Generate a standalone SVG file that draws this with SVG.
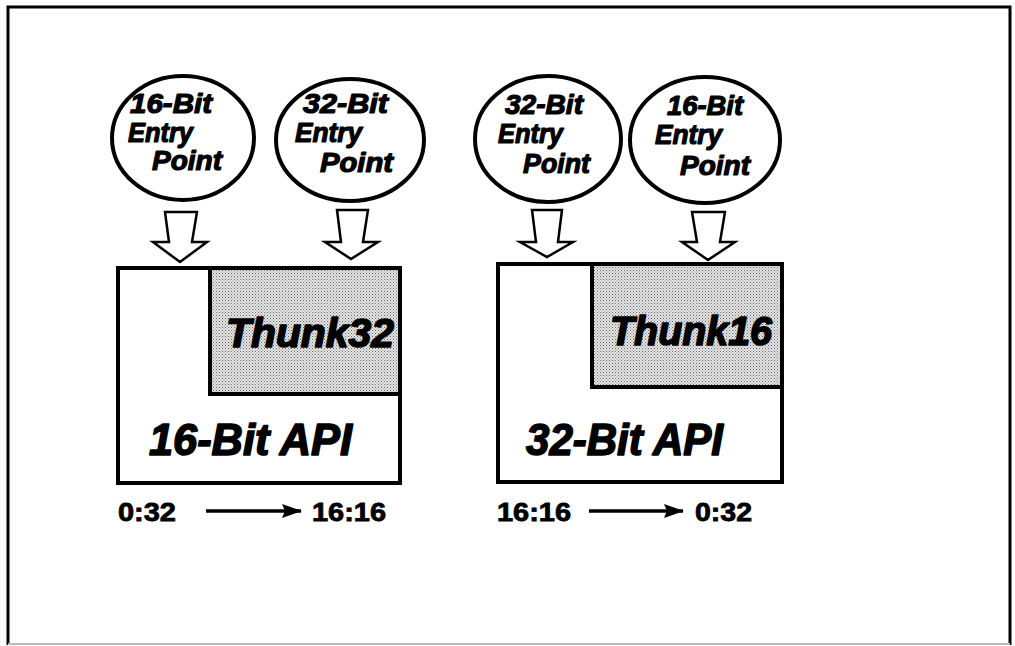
<svg xmlns="http://www.w3.org/2000/svg" width="1015" height="646" viewBox="0 0 1015 646">
  <defs>
    <pattern id="dither" width="3" height="3" patternUnits="userSpaceOnUse">
      <rect width="3" height="3" fill="#e4e4e4"/>
      <rect x="0" y="0" width="1" height="1" fill="#6a6a6a"/>
      <rect x="1.5" y="1.5" width="1" height="1" fill="#8a8a8a"/>
    </pattern>
    <marker id="head" markerWidth="20" markerHeight="14" refX="19" refY="7" orient="auto" markerUnits="userSpaceOnUse" viewBox="0 0 20 14">
      <path d="M0,0 L20,7 L0,14 L3,7 Z" fill="#000"/>
    </marker>
  </defs>
  <style>
    .frame { fill: none; stroke: #000; stroke-width: 3; }
    .bubble { fill: #fff; stroke: #000; stroke-width: 4; }
    .box { fill: #fff; stroke: #000; stroke-width: 4; }
    .thunk { fill: url(#dither); stroke: #000; stroke-width: 4; }
    .hollow { fill: #fff; stroke: #000; stroke-width: 2.5; stroke-linejoin: miter; }
    .lbl { font-family: "Liberation Sans", Arial, sans-serif; font-weight: bold; font-style: italic; fill: #000; stroke: #000; stroke-width: 1.2; stroke-linejoin: round; }
    .small { font-size: 27px; }
    .big { font-size: 44px; stroke-width: 1.6; }
    .mid { font-size: 40px; stroke-width: 1.6; }
    .mode { font-family: "Liberation Sans", Arial, sans-serif; font-weight: bold; font-size: 25px; fill: #000; stroke: #000; stroke-width: 0.8; }
    .flow { stroke: #000; stroke-width: 3.5; fill: none; }
  </style>

  <rect width="1015" height="646" fill="#fff"/>
  <!-- page frame -->
  <path class="frame" d="M8,645 L8,7 L1010,7 L1010,645"/>
  <line x1="8" y1="644" x2="1010" y2="644" stroke="#bbb" stroke-width="2"/>

  <!-- left API block -->
  <g id="api16">
    <rect class="box" x="118" y="268" width="282" height="215"/>
    <text class="lbl big" x="149" y="455" textLength="203" lengthAdjust="spacingAndGlyphs">16-Bit API</text>
  </g>
  <g id="thunk32">
    <rect class="thunk" x="210" y="268" width="190" height="126"/>
    <text class="lbl mid" x="226" y="347" textLength="168" lengthAdjust="spacingAndGlyphs">Thunk32</text>
  </g>

  <!-- right API block -->
  <g id="api32">
    <rect class="box" x="498" y="264" width="284" height="218"/>
    <text class="lbl big" x="526" y="455" textLength="197" lengthAdjust="spacingAndGlyphs">32-Bit API</text>
  </g>
  <g id="thunk16">
    <rect class="thunk" x="592" y="264" width="190" height="123"/>
    <text class="lbl mid" x="610" y="345" textLength="162" lengthAdjust="spacingAndGlyphs">Thunk16</text>
  </g>

  <!-- entry point bubbles -->
  <g id="entry16a">
    <ellipse class="bubble" cx="183" cy="138" rx="71" ry="62"/>
    <text class="lbl small" x="130" y="113" textLength="82" lengthAdjust="spacingAndGlyphs">16-Bit</text>
    <text class="lbl small" x="128" y="142" textLength="65" lengthAdjust="spacingAndGlyphs">Entry</text>
    <text class="lbl small" x="152" y="170" textLength="70" lengthAdjust="spacingAndGlyphs">Point</text>
  </g>
  <g id="entry32a">
    <ellipse class="bubble" cx="350" cy="140" rx="74" ry="61"/>
    <text class="lbl small" x="303" y="113" textLength="85" lengthAdjust="spacingAndGlyphs">32-Bit</text>
    <text class="lbl small" x="295" y="142" textLength="67" lengthAdjust="spacingAndGlyphs">Entry</text>
    <text class="lbl small" x="320" y="172" textLength="73" lengthAdjust="spacingAndGlyphs">Point</text>
  </g>
  <g id="entry32b">
    <ellipse class="bubble" cx="548" cy="139" rx="73" ry="63"/>
    <text class="lbl small" x="505" y="114" textLength="78" lengthAdjust="spacingAndGlyphs">32-Bit</text>
    <text class="lbl small" x="498" y="143" textLength="65" lengthAdjust="spacingAndGlyphs">Entry</text>
    <text class="lbl small" x="523" y="173" textLength="67" lengthAdjust="spacingAndGlyphs">Point</text>
  </g>
  <g id="entry16b">
    <ellipse class="bubble" cx="705" cy="140" rx="75" ry="63"/>
    <text class="lbl small" x="667" y="115" textLength="76" lengthAdjust="spacingAndGlyphs">16-Bit</text>
    <text class="lbl small" x="655" y="144" textLength="67" lengthAdjust="spacingAndGlyphs">Entry</text>
    <text class="lbl small" x="680" y="175" textLength="70" lengthAdjust="spacingAndGlyphs">Point</text>
  </g>

  <!-- connectors: hollow entry arrows and direction arrows -->
  <g id="connectors">
    <polygon class="hollow" points="165,212 197,212 192,242 207,242 180,262 153,242 169,242"/>
    <polygon class="hollow" points="337,210 368,210 363,242 378,242 351,259 325,242 341,242"/>
    <polygon class="hollow" points="532,210 562,210 558,242 573,242 547,257 520,242 536,242"/>
    <polygon class="hollow" points="692,212 725,212 720,242 735,242 708,260 682,242 697,242"/>

    <line class="flow" x1="206" y1="511" x2="301" y2="511" marker-end="url(#head)"/>
    <line class="flow" x1="589" y1="511" x2="683" y2="511" marker-end="url(#head)"/>
  </g>

  <!-- conversion labels -->
  <g id="modes">
    <text class="mode" x="118" y="521" textLength="58" lengthAdjust="spacingAndGlyphs">0:32</text>
    <text class="mode" x="312" y="521" textLength="74" lengthAdjust="spacingAndGlyphs">16:16</text>
    <text class="mode" x="497" y="521" textLength="74" lengthAdjust="spacingAndGlyphs">16:16</text>
    <text class="mode" x="695" y="521" textLength="57" lengthAdjust="spacingAndGlyphs">0:32</text>
  </g>
</svg>
